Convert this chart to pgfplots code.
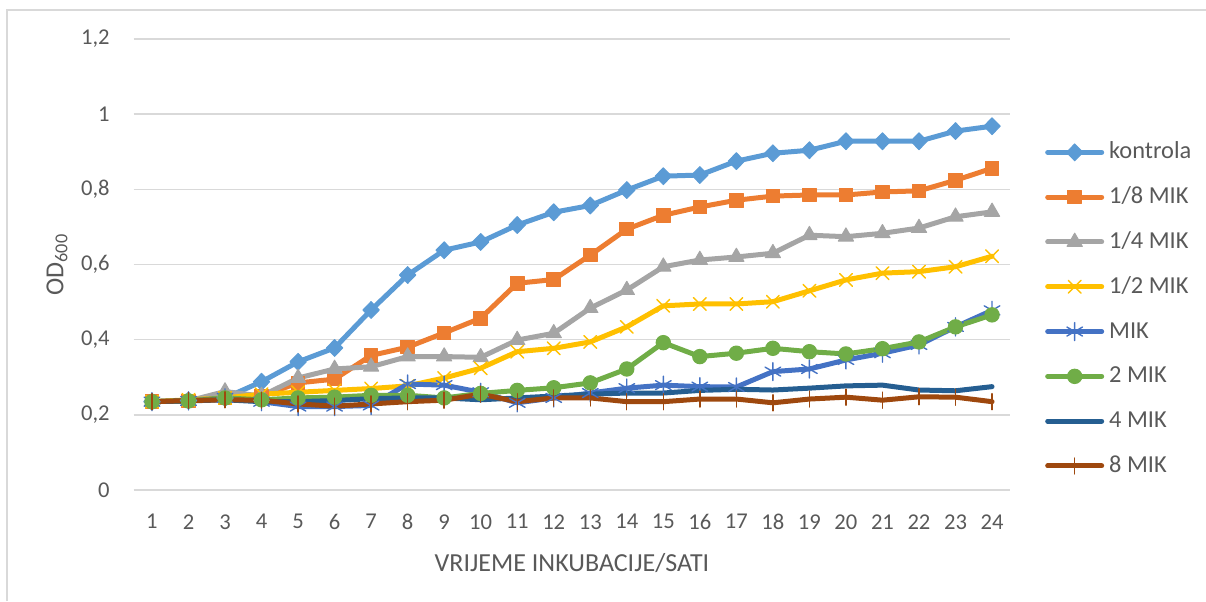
\documentclass[border=0pt]{standalone}
\usepackage{pgfplots}
\usepackage{pgfplotstable}
\pgfplotsset{compat=1.18}
\usepackage{fontspec}
\setmainfont{Carlito}
\definecolor{ckon}{HTML}{5B9BD5}
\definecolor{c18}{HTML}{ED7D31}
\definecolor{c14}{HTML}{A5A5A5}
\definecolor{c12}{HTML}{FFC000}
\definecolor{cmik}{HTML}{4472C4}
\definecolor{c2}{HTML}{70AD47}
\definecolor{c4}{HTML}{255E91}
\definecolor{c8}{HTML}{9E480E}
\definecolor{gridc}{HTML}{D9D9D9}
\definecolor{txt}{HTML}{595959}
\pgfplotstableread{
h kon m18 m14 m12 mik m2 m4 m8
1 0.235 0.235 0.235 0.235 0.235 0.235 0.235 0.235
2 0.238 0.237 0.237 0.240 0.237 0.237 0.237 0.238
3 0.245 0.245 0.262 0.245 0.245 0.245 0.240 0.240
4 0.288 0.250 0.250 0.255 0.235 0.240 0.235 0.239
5 0.341 0.285 0.298 0.260 0.222 0.245 0.235 0.229
6 0.378 0.295 0.322 0.265 0.222 0.247 0.238 0.223
7 0.479 0.358 0.328 0.270 0.225 0.252 0.243 0.229
8 0.572 0.380 0.355 0.277 0.282 0.252 0.245 0.235
9 0.638 0.418 0.355 0.298 0.279 0.245 0.245 0.239
10 0.660 0.457 0.353 0.324 0.260 0.257 0.240 0.255
11 0.705 0.550 0.399 0.368 0.232 0.265 0.245 0.235
12 0.739 0.560 0.417 0.377 0.245 0.272 0.250 0.245
13 0.757 0.625 0.484 0.394 0.258 0.285 0.255 0.245
14 0.798 0.694 0.532 0.434 0.271 0.322 0.258 0.235
15 0.835 0.731 0.594 0.490 0.279 0.392 0.258 0.235
16 0.838 0.753 0.612 0.495 0.275 0.355 0.265 0.242
17 0.875 0.771 0.620 0.495 0.274 0.364 0.268 0.242
18 0.896 0.782 0.630 0.501 0.315 0.377 0.266 0.232
19 0.904 0.785 0.678 0.530 0.322 0.368 0.271 0.242
20 0.928 0.785 0.674 0.559 0.346 0.362 0.277 0.247
21 0.928 0.793 0.683 0.577 0.364 0.376 0.279 0.239
22 0.928 0.796 0.697 0.581 0.386 0.394 0.266 0.248
23 0.955 0.824 0.727 0.594 0.434 0.434 0.264 0.247
24 0.968 0.856 0.740 0.622 0.478 0.466 0.275 0.235
}\datatable
\begin{document}
\begin{tikzpicture}
\useasboundingbox (0,0) rectangle (603pt,300.5pt);
\draw[gridc, line width=0.75pt] (3.5pt,0) -- (3.5pt,295.5pt) -- (603pt,295.5pt);
\begin{axis}[
  at={(66.85pt,55.5pt)}, anchor=south west,
  scale only axis, width=438.3pt, height=225.5pt,
  xmin=0.5, xmax=24.5, ymin=0, ymax=1.2,
  xtick={1,...,24}, ytick={0,0.2,0.4,0.6,0.8,1,1.2},
  yticklabels={0,{0,2},{0,4},{0,6},{0,8},1,{1,2}},
  /pgf/number format/assume math mode=true,
  axis line style={draw=none},
  major tick length=0pt,
  xmajorgrids=false, ymajorgrids=true,
  major grid style={draw=gridc, line width=0.75pt},
  tick label style={font=\fontsize{11.3}{13}\selectfont, text=txt},
  xticklabel style={anchor=north, inner sep=0pt},
  xticklabel shift=12pt,
  yticklabel style={anchor=east, inner sep=0pt},
  yticklabel shift=11.85pt,
  label style={font=\fontsize{13}{15}\selectfont, text=txt},
  xlabel={VRIJEME INKUBACIJE/SATI},
  xlabel style={at={(axis description cs:0.5,-0.162)}, anchor=center},
  ylabel={OD\textsubscript{600}},
  ylabel style={at={(axis description cs:-0.0875,0.5)}, anchor=center},
  clip=false,
  legend cell align=left,
  legend style={draw=none, fill=none, at={(axis description cs:1.0325,0.401)}, anchor=west,
    font=\fontsize{12.2}{14}\selectfont, text=txt,
    nodes={inner sep=0pt, text height=8.5pt, text depth=2pt},
    row sep=11.9pt, column sep=2.5pt},
  legend image code/.code={\draw[mark repeat=2,mark phase=2] plot coordinates {(0pt,0pt) (13.5pt,0pt) (27pt,0pt)};},
  every axis plot/.append style={line width=2.5pt, line join=round, line cap=round},
]
\addplot[ckon, mark=diamond*, mark size=4.2pt, mark options={xscale=1.3, solid, line width=0.5pt}] table[x=h,y=kon]{\datatable};
\addlegendentry{kontrola}
\addplot[c18, mark=square*, mark size=3.4pt, mark options={line width=0.5pt}] table[x=h,y=m18]{\datatable};
\addlegendentry{1/8 MIK}
\addplot[c14, mark=triangle*, mark size=4.4pt, mark options={line width=0.5pt}] table[x=h,y=m14]{\datatable};
\addlegendentry{1/4 MIK}
\addplot[c12, mark=x, mark size=4.5pt, mark options={line width=0.7pt}] table[x=h,y=m12]{\datatable};
\addlegendentry{1/2 MIK}
\addplot[cmik, mark=asterisk, mark size=4.5pt, mark options={line width=0.7pt}] table[x=h,y=mik]{\datatable};
\addlegendentry{MIK}
\addplot[c2, mark=*, mark size=3.6pt, mark options={line width=0.5pt}] table[x=h,y=m2]{\datatable};
\addlegendentry{2 MIK}
\addplot[c4, no marks] table[x=h,y=m4]{\datatable};
\addlegendentry{4 MIK}
\addplot[c8, mark=|, mark size=4pt, mark options={line width=0.7pt}] table[x=h,y=m8]{\datatable};
\addlegendentry{8 MIK}
\end{axis}
\end{tikzpicture}
\end{document}
